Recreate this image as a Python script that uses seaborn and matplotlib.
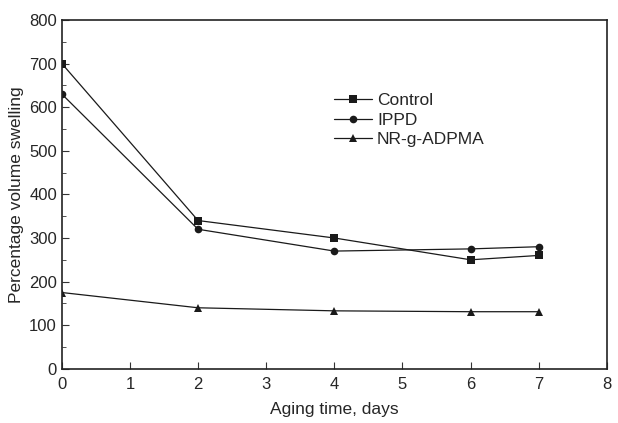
import pandas as pd
import matplotlib
matplotlib.use("Agg")
import matplotlib.pyplot as plt
import seaborn as sns
from matplotlib.ticker import MultipleLocator

days = [0, 2, 4, 6, 7]
control = [700, 340, 300, 250, 260]
ippd = [630, 320, 270, 275, 280]
nr_g_adpma = [175, 140, 133, 131, 131]

df = pd.DataFrame({
    "days": days * 3,
    "swelling": control + ippd + nr_g_adpma,
    "sample": ["Control"] * len(days) + ["IPPD"] * len(days) + ["NR-g-ADPMA"] * len(days),
})

sns.set_style("ticks")
plt.rcParams['font.family'] = ['Liberation Sans', 'DejaVu Sans']

fig = plt.figure(figsize=(6.18, 4.23), dpi=100)
ax = fig.add_axes([0.1, 0.128, 0.882, 0.825])

sns.lineplot(
    data=df, x="days", y="swelling", style="sample", hue="sample",
    palette=["#1a1a1a"] * 3, markers=["s", "o", "^"], dashes=False,
    markersize=5.5, linewidth=0.9, markeredgewidth=0, ax=ax,
)

ax.set_xlim(0, 8)
ax.set_ylim(0, 800)
ax.xaxis.set_major_locator(MultipleLocator(1))
ax.yaxis.set_major_locator(MultipleLocator(100))
ax.yaxis.set_minor_locator(MultipleLocator(50))
ax.tick_params(axis="both", which="both", direction="in", labelsize=12, color="#333333")
ax.tick_params(which="major", length=5)
ax.tick_params(which="minor", length=3)
ax.tick_params(axis="x", pad=6)
for s in ax.spines.values():
    s.set_linewidth(1.2)
    s.set_color("#222222")
ax.set_xlabel("Aging time, days", fontsize=12.5, labelpad=7)
ax.set_ylabel("Percentage volume swelling", fontsize=12.5)

leg = ax.legend(loc="upper left", bbox_to_anchor=(0.47, 0.835), frameon=False,
                fontsize=12.5, handlelength=2.2, labelspacing=0.25, handletextpad=0.3)

fig.savefig("out.png", dpi=100)
